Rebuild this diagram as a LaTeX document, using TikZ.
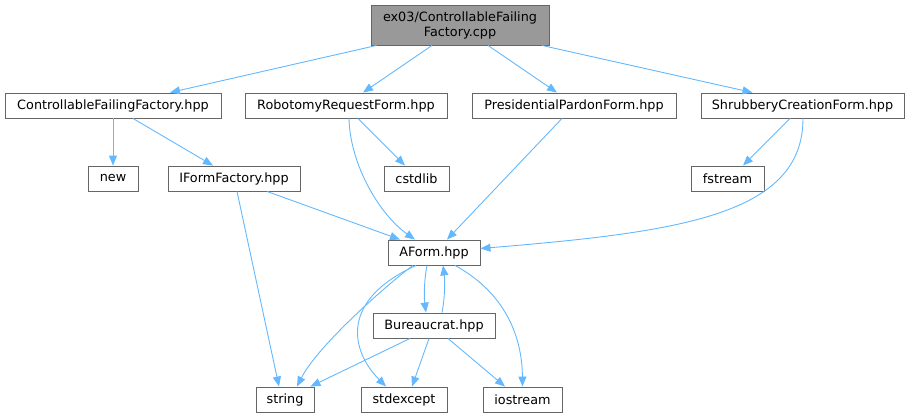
\documentclass[tikz,border=0pt]{standalone}
\usepackage{fontspec}
\setmainfont{DejaVu Sans}
\usetikzlibrary{arrows.meta}
\definecolor{edgec}{HTML}{63B8FF}
\definecolor{boxc}{HTML}{666666}
\definecolor{rootc}{HTML}{999999}
\begin{document}
\begin{tikzpicture}[x=1pt,y=-1pt,
  box/.style={draw=boxc,line width=0.9pt,fill=white,inner sep=0pt,minimum height=25pt,font=\fontsize{12.8}{15}\selectfont,text=black,align=center},
  rootbox/.style={box,fill=rootc,minimum height=40pt},
  dep/.style={draw=edgec,line width=0.9pt,-{Triangle[length=10pt,width=8pt]}}]
\useasboundingbox (0,0) rectangle (910,417);
\node[rootbox,minimum width=178pt] (root) at (460,25) {ex03/ControllableFailing\\Factory.cpp};
\node[box,minimum width=216pt] (cff) at (113,105.5) {ControllableFailingFactory.hpp};
\node[box,minimum width=202pt] (rob) at (346,105.5) {RobotomyRequestForm.hpp};
\node[box,minimum width=204pt] (pres) at (574,105.5) {PresidentialPardonForm.hpp};
\node[box,minimum width=203pt] (shrub) at (802.5,105.5) {ShrubberyCreationForm.hpp};
\node[box,minimum width=50pt] (new) at (113,178.5) {new};
\node[box,minimum width=132pt] (iff) at (234,178.5) {IFormFactory.hpp};
\node[box,minimum width=65pt] (cstd) at (416.5,178.5) {cstdlib};
\node[box,minimum width=73pt] (fstr) at (727.5,178.5) {fstream};
\node[box,minimum width=92pt] (aform) at (434,252.5) {AForm.hpp};
\node[box,minimum width=122pt] (bur) at (434,325.5) {Bureaucrat.hpp};
\node[box,minimum width=58pt] (str) at (285,399.5) {string};
\node[box,minimum width=86pt] (stdex) at (404,399.5) {stdexcept};
\node[box,minimum width=79pt] (iostr) at (522.5,399.5) {iostream};
% root edges
\draw[dep] ([xshift=6pt]root.south west) -- ([xshift=57pt]cff.north);
\draw[dep] ([xshift=-28pt]root.south) -- ([xshift=17pt]rob.north);
\draw[dep] ([xshift=28pt]root.south) -- ([xshift=-17pt]pres.north);
\draw[dep] ([xshift=82pt]root.south) -- ([xshift=-50pt]shrub.north);
% second level
\draw[dep] (cff.south) -- (new.north);
\draw[dep] ([xshift=20pt]cff.south) -- ([xshift=-21pt]iff.north);
\draw[dep] ([xshift=12pt]rob.south) -- ([xshift=-11.5pt]cstd.north);
\draw[dep] ([xshift=3pt]rob.south) .. controls (350,165) and (380,215) .. ([xshift=-19pt]aform.north);
\draw[dep] ([xshift=-12pt]pres.south) -- ([xshift=13pt]aform.north);
\draw[dep] ([xshift=-12.5pt]shrub.south) -- ([xshift=15.5pt]fstr.north);
\draw[dep] ([xshift=0.5pt]shrub.south) .. controls (803,215) and (680,232) .. ([yshift=4pt]aform.east);
\draw[dep] ([xshift=33pt]iff.south) -- ([xshift=-34pt]aform.north);
\draw[dep] ([xshift=3pt]iff.south) -- ([xshift=-6pt]str.north);
% AForm / Bureaucrat
\draw[dep] ([xshift=-21pt]aform.south) .. controls (390,282) and (318,345) .. ([xshift=12pt]str.north);
\draw[dep] ([xshift=-18pt]aform.south) .. controls (340,300) and (350,350) .. ([xshift=-18pt]stdex.north);
\draw[dep] ([xshift=-7pt]aform.south) .. controls (424,280) and (424,298) .. ([xshift=-8pt]bur.north);
\draw[dep] ([xshift=8pt]bur.north) .. controls (445,298) and (445,280) .. ([xshift=9pt]aform.south);
\draw[dep] ([xshift=21pt]aform.south) .. controls (500,290) and (522,330) .. (iostr.north);
\draw[dep] ([xshift=-24pt]bur.south) -- ([xshift=-4pt]str.north east);
\draw[dep] ([xshift=-5pt]bur.south) -- ([xshift=8pt]stdex.north);
\draw[dep] ([xshift=14pt]bur.south) -- ([xshift=-17.5pt]iostr.north);
\end{tikzpicture}
\end{document}
